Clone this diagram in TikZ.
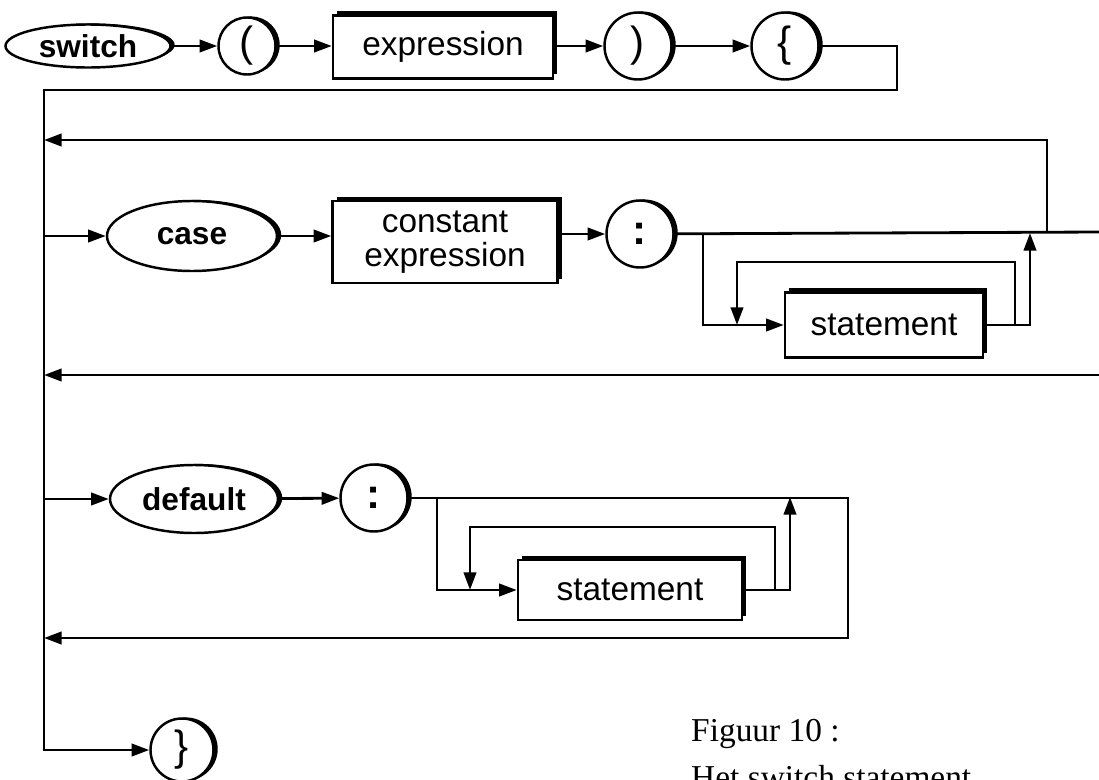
\documentclass[tikz,border=0pt]{standalone}
\usepackage{fontspec}
\setmainfont{Liberation Serif}
\setsansfont{Liberation Sans}
\usepackage{tikz}
\usetikzlibrary{arrows.meta,shapes.geometric,shadows,calc}

\tikzset{
  keyword/.style={ellipse, draw, line width=1.4pt, fill=white, inner sep=0pt,
    font=\sffamily\bfseries\fontsize{18}{20}\selectfont,
    drop shadow={shadow xshift=2.4pt, shadow yshift=0.6pt, opacity=1, fill=black}},
  symbol/.style={circle, draw, line width=1.4pt, fill=white, inner sep=0pt,
    minimum size=13.4mm, font=\sffamily\fontsize{24}{24}\selectfont,
    drop shadow={shadow xshift=2.4pt, shadow yshift=0.6pt, opacity=1, fill=black}},
  nonterm/.style={rectangle, draw, line width=1.4pt, fill=white, align=center,
    font=\sffamily\fontsize{19}{19}\selectfont,
    drop shadow={shadow xshift=2.4pt, shadow yshift=2.4pt, opacity=1, fill=black}},
  flow/.style={line width=1.6pt, ->},
  caption/.style={anchor=base west, font=\fontsize{19}{24}\selectfont},
}

\begin{document}
\begin{tikzpicture}[x=0.2mm, y=-0.2mm, >={Triangle[length=10pt,width=7pt]}]
    \useasboundingbox (0,0) rectangle (1099,780);
    \clip (0,0) rectangle (1099,780);

    % Header: switch ( expression ) {
    \node[keyword, minimum width=33mm, minimum height=8.6mm] (switch) at (88,46) {switch};
    \node[symbol, minimum size=11.4mm] (lpar) at (247,46) {(};
    \node[nonterm, minimum width=44mm, minimum height=12.6mm] (expr) at (443,47) {expression};
    \node[symbol] (rpar) at (638,46) {)};
    \node[symbol] (lbrace) at (785,46) {\{};

    \draw[flow] (switch) -- (lpar);
    \draw[flow] (lpar) -- (lpar -| expr.west);
    \draw[flow] (expr.east |- rpar) -- (rpar);
    \draw[flow] (rpar) -- (lbrace);

    % Spine down to the closing brace
    \node[symbol, minimum size=12.6mm] (rbrace) at (182,750) {\}};
    \draw[flow] (lbrace) -| (897,90) -| (44,750) -- (rbrace);

    % case branch
    \node[keyword, minimum width=34mm, minimum height=14mm] (case) at (192,236) {case};
    \node[nonterm, minimum width=45mm, minimum height=16.4mm] (constexpr) at (445,242) {constant\\expression};
    \node[symbol] (colonA) at (640,234) {\bfseries :};
    \node[nonterm, minimum width=39.6mm, minimum height=13mm] (stmtA) at (884,325) {statement};

    \draw[flow] (44,236) -- (case);
    \draw[flow] (case) -- (case -| constexpr.west);
    \draw[flow] (constexpr.east |- colonA) -- (colonA);
    \draw[line width=1.6pt] (colonA) -- (1099,232);
    \draw[flow] (1047,232) |- (44,140);
    \draw[flow] (703,234) |- (stmtA);
    \draw[flow] (stmtA) -| (1030,233);
    \draw[flow] (1015,325) |- (737,262) -- (737,325);
    \draw[flow] (1099,375) -- (44,375);

    % default branch
    \node[keyword, minimum width=33.6mm, minimum height=13.6mm] (default) at (194,499) {default};
    \node[symbol] (colonB) at (374,498) {\bfseries :};
    \node[nonterm, minimum width=44.8mm, minimum height=12mm] (stmtB) at (630,590) {statement};

    \draw[flow] (44,499) -- (default);
    \draw[flow] (default) -- (colonB);
    \draw[flow] (colonB) -| (848,638) -- (44,638);
    \draw[flow] (437,497) |- (stmtB);
    \draw[flow] (stmtB) -| (790,497);
    \draw[flow] (775,590) |- (470,527) -- (470,590);

    % Caption
    \node[caption] (figno) at (685,741) {Figuur 10 :};
    \node[caption] (figtitle) at (685,788) {Het switch statement};
\end{tikzpicture}
\end{document}
